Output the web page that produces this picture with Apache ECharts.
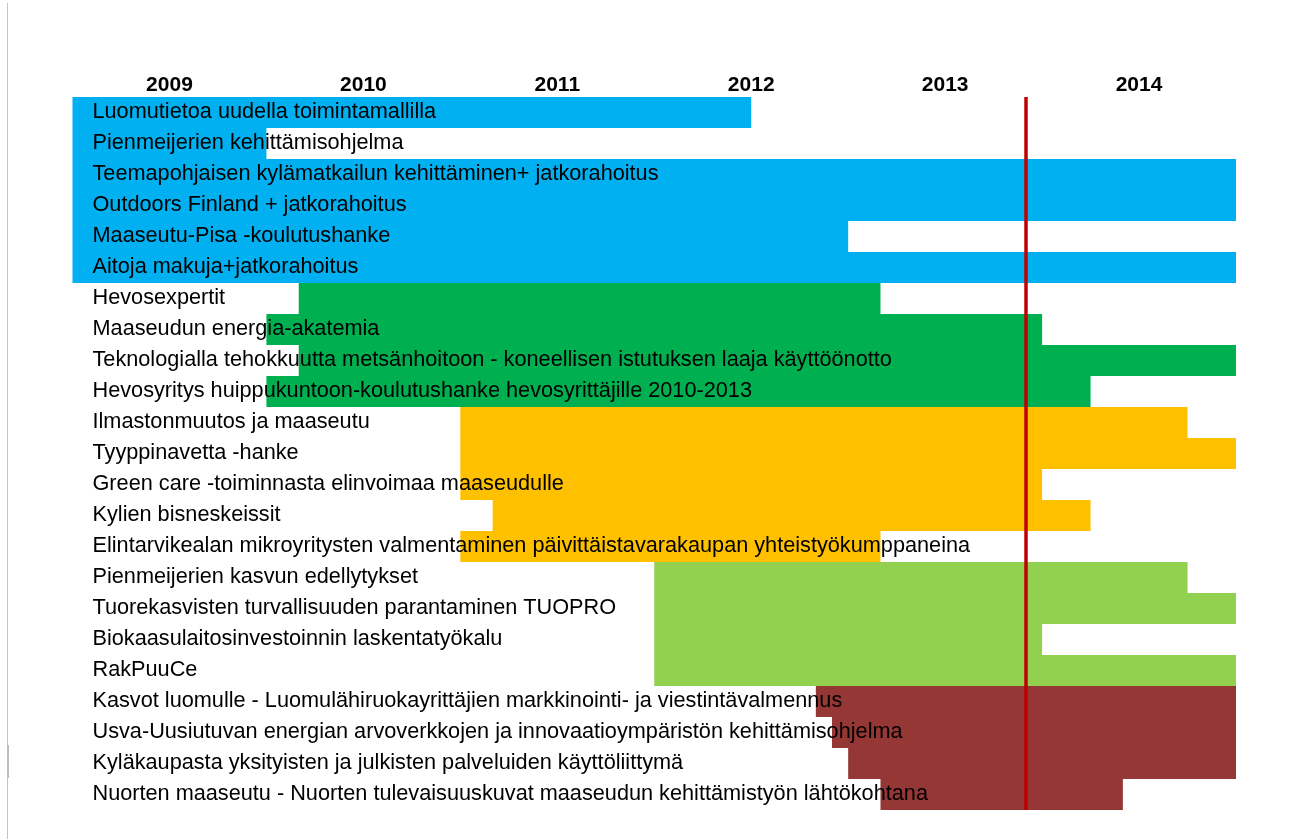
<!DOCTYPE html>
<html>
<head>
<meta charset="utf-8">
<script src="https://cdn.jsdelivr.net/npm/echarts@6/dist/echarts.min.js"></script>
<style>
html,body{margin:0;padding:0;background:#fff;}
#chart{width:1291px;height:839px;}
</style>
</head>
<body>
<div id="chart"></div>
<script>
// ---- data ----
const categories = [
  'Luomutietoa uudella toimintamallilla',
  'Pienmeijerien kehittämisohjelma',
  'Teemapohjaisen kylämatkailun kehittäminen+ jatkorahoitus',
  'Outdoors Finland + jatkorahoitus',
  'Maaseutu-Pisa -koulutushanke',
  'Aitoja makuja+jatkorahoitus',
  'Hevosexpertit',
  'Maaseudun energia-akatemia',
  'Teknologialla tehokkuutta metsänhoitoon - koneellisen istutuksen laaja käyttöönotto',
  'Hevosyritys huippukuntoon-koulutushanke hevosyrittäjille 2010-2013',
  'Ilmastonmuutos ja maaseutu',
  'Tyyppinavetta -hanke',
  'Green care -toiminnasta elinvoimaa maaseudulle',
  'Kylien bisneskeissit',
  'Elintarvikealan mikroyritysten valmentaminen päivittäistavarakaupan yhteistyökumppaneina',
  'Pienmeijerien kasvun edellytykset',
  'Tuorekasvisten turvallisuuden parantaminen TUOPRO',
  'Biokaasulaitosinvestoinnin laskentatyökalu',
  'RakPuuCe',
  'Kasvot luomulle - Luomulähiruokayrittäjien markkinointi- ja viestintävalmennus',
  'Usva-Uusiutuvan energian arvoverkkojen ja innovaatioympäristön kehittämisohjelma',
  'Kyläkaupasta yksityisten ja julkisten palveluiden käyttöliittymä',
  'Nuorten maaseutu - Nuorten tulevaisuuskuvat maaseudun kehittämistyön lähtökohtana'
];
// months counted from January 2009
const startMonth = [0, 0, 0, 0, 0, 0, 14, 12, 14, 12, 24, 24, 24, 26, 24, 36, 36, 36, 36, 46, 47, 48, 50];
const endMonth   = [42, 12, 72, 72, 48, 72, 50, 60, 72, 63, 69, 72, 60, 63, 50, 69, 72, 60, 72, 72, 72, 72, 65];
const groupOf    = [0, 0, 0, 0, 0, 0, 1, 1, 1, 1, 2, 2, 2, 2, 2, 3, 3, 3, 3, 4, 4, 4, 4];
const years = ['2009', '2010', '2011', '2012', '2013', '2014'];
const currentMonth = 59;

// ---- styles ----
const groupColors = ['#00B0F0', '#00B050', '#FFC000', '#92D050', '#953735'];
const FONT = 'Liberation Sans';

const durationData = endMonth.map((e, i) => ({
  value: e - startMonth[i],
  itemStyle: { color: groupColors[groupOf[i]] }
}));

const chart = echarts.init(document.getElementById('chart'), null, { renderer: 'canvas' });
chart.setOption({
  animation: false,
  backgroundColor: '#fff',
  grid: { left: 72.5, right: 55, top: 97, bottom: 29, containLabel: false },
  xAxis: [
    { type: 'value', min: 0, max: 72, interval: 12, show: false },
    {
      type: 'category', data: years, position: 'top', gridIndex: 0,
      axisLine: { show: false }, axisTick: { show: false }, splitLine: { show: false },
      axisLabel: { fontFamily: FONT, fontWeight: 'bold', fontSize: 21, color: '#000', margin: 1 }
    }
  ],
  yAxis: {
    type: 'category', data: categories, inverse: true, z: 10,
    axisLine: { show: false }, axisTick: { show: false }, splitLine: { show: false },
    axisLabel: { inside: true, margin: 20, fontFamily: FONT, fontSize: 21.7, color: '#000', padding: [7, 0, 0, 0] }
  },
  series: [
    {
      type: 'bar', stack: 'g', silent: true, barCategoryGap: '0%',
      itemStyle: { color: 'rgba(0,0,0,0)' },
      data: startMonth
    },
    {
      type: 'bar', stack: 'g', silent: true, barCategoryGap: '0%',
      data: durationData,
      markLine: {
        silent: true, symbol: 'none', animation: false,
        label: { show: false },
        lineStyle: { color: '#C00000', width: 3.5, type: 'solid' },
        data: [{ xAxis: currentMonth }]
      }
    }
  ],
  graphic: [
    { type: 'rect', shape: { x: 7, y: 3, width: 1, height: 836 }, style: { fill: '#c4c4c4' }, silent: true },
    { type: 'rect', shape: { x: 7, y: 745, width: 2, height: 33 }, style: { fill: '#bdbdbd' }, silent: true }
  ]
});
</script>
</body>
</html>
